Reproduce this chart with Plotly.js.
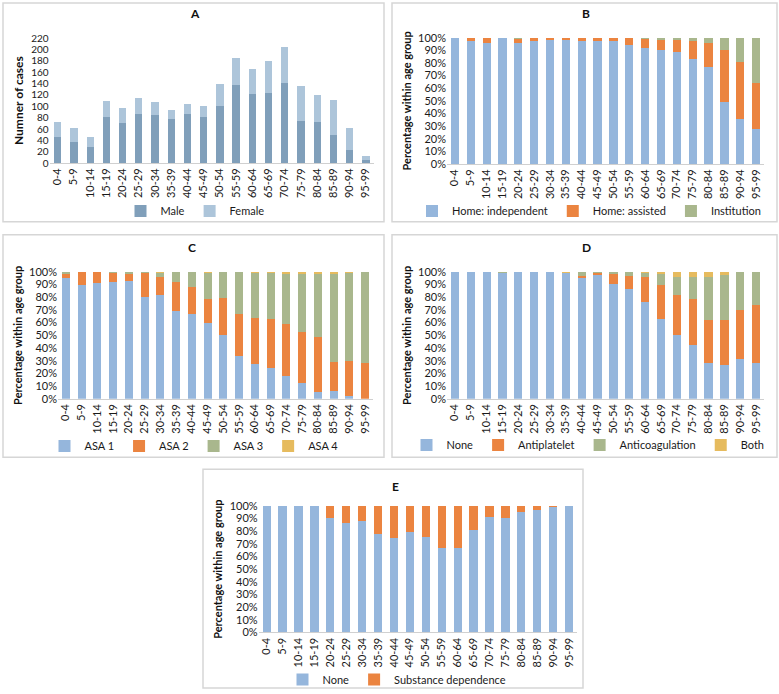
<!DOCTYPE html>
<html>
<head>
<meta charset="utf-8">
<script src="https://cdn.plot.ly/plotly-3.0.1.min.js"></script>
<style>html,body{margin:0;padding:0;background:#fff;}#chart{width:779px;height:694px;}</style>
</head>
<body>
<div id="chart"></div>
<script>
const ageGroups = ['0-4','5-9','10-14','15-19','20-24','25-29','30-34','35-39','40-44','45-49','50-54','55-59','60-64','65-69','70-74','75-79','80-84','85-89','90-94','95-99'];

// Panel A: number of cases
const male   = [46, 37, 29, 82, 70, 86, 85, 77, 86, 81, 101, 137, 121, 124, 141, 75, 72, 49, 23, 6];
const female = [27, 24, 17, 28, 27, 29, 22, 16, 18, 20, 39, 49, 45, 56, 64, 61, 48, 62, 39, 7];

// Panel B: living situation (%)
const homeIndependent = [100, 97, 96, 99.5, 96, 97, 98.5, 98, 97.5, 97.3, 97.5, 94, 92, 90.5, 89, 83, 77, 49, 36, 28];
const homeAssisted    = [0, 3, 4, 0.5, 3, 3, 1.5, 2, 2.5, 2.7, 2.5, 6, 6.7, 7.5, 9, 14, 18.5, 41, 44.5, 36];
const institution     = [0, 0, 0, 0, 1, 0, 0, 0, 0, 0, 0, 0, 1.3, 2, 2, 3, 4.5, 10, 19.5, 36];

// Panel C: ASA class (%)
const asa1 = [95, 90, 91.5, 92, 93, 80.5, 81.5, 69, 67, 60, 50.5, 34, 27, 24, 18, 12.5, 5, 6, 2.5, 0];
const asa2 = [3, 10, 8.5, 7.5, 5.5, 18.5, 14.5, 23, 21, 19, 29, 32.7, 36.8, 39, 41, 40.5, 44, 23, 27.2, 28];
const asa3 = [2, 0, 0, 0.5, 1.5, 1, 3.5, 8, 12, 20, 20.5, 33.3, 35.2, 36, 39, 45, 49.5, 69, 69.3, 72];
const asa4 = [0, 0, 0, 0, 0, 0, 0.5, 0, 0, 1, 0, 0, 1, 1, 2, 2, 1.5, 2, 1, 0];

// Panel D: antithrombotic medication (%)
const medNone         = [100, 100, 100, 99.5, 100, 100, 100, 99.3, 95.3, 97.4, 90.8, 86.4, 75.9, 62.5, 50.4, 42.3, 28.3, 26.8, 31.2, 27.8];
const antiplatelet    = [0, 0, 0, 0, 0, 0, 0, 0, 1.7, 1.6, 7.9, 10.2, 20.1, 27, 31.6, 36.2, 33.9, 34.9, 39.1, 46];
const anticoagulation = [0, 0, 0, 0.5, 0, 0, 0, 0, 3, 1, 1.3, 3.4, 3, 8.5, 13.8, 17.8, 33.6, 35.7, 29.7, 26.2];
const both            = [0, 0, 0, 0, 0, 0, 0, 0.7, 0, 0, 0, 0, 1, 2, 4.2, 3.7, 4.2, 2.6, 0, 0];

// Panel E: substance dependence (%)
const substNone = [100, 100, 100, 100, 90.8, 86.8, 87.9, 77.9, 74.5, 79.5, 75.5, 66.6, 67.1, 81.3, 91.6, 90.3, 95.3, 96.8, 99, 100];
const substDep  = [0, 0, 0, 0, 9.2, 13.2, 12.1, 22.1, 25.5, 20.5, 24.5, 33.4, 32.9, 18.7, 8.4, 9.7, 4.7, 3.2, 1, 0];

const C = {male:'#809fba', female:'#adc5da', blue:'#95b6dc', orange:'#eb8440', green:'#a9b78d', yellow:'#e6bb5e'};
const W = 779, H = 694;
const px = x => x / W, py = y => 1 - y / H;
const FONT = 'Lato, "Open Sans", sans-serif';

function bar(name, y, color, ax, leg, width) {
  const t = {type:'bar', name:name, x:ageGroups, y:y, marker:{color:color, line:{width:0}},
    xaxis:'x'+ax, yaxis:'y'+ax, legend:leg, hoverinfo:'x+y+name'};
  if (width) t.width = width;
  return t;
}

const data = [
  bar('Male', male, C.male, '', 'legend', 0.45),
  bar('Female', female, C.female, '', 'legend', 0.45),
  bar('Home: independent', homeIndependent, C.blue, '2', 'legend2'),
  bar('Home: assisted', homeAssisted, C.orange, '2', 'legend2'),
  bar('Institution', institution, C.green, '2', 'legend2'),
  bar('ASA 1', asa1, C.blue, '3', 'legend3'),
  bar('ASA 2', asa2, C.orange, '3', 'legend3'),
  bar('ASA 3', asa3, C.green, '3', 'legend3'),
  bar('ASA 4', asa4, C.yellow, '3', 'legend3'),
  bar('None', medNone, C.blue, '4', 'legend4'),
  bar('Antiplatelet', antiplatelet, C.orange, '4', 'legend4'),
  bar('Anticoagulation', anticoagulation, C.green, '4', 'legend4'),
  bar('Both', both, C.yellow, '4', 'legend4'),
  bar('None', substNone, C.blue, '5', 'legend5'),
  bar('Substance dependence', substDep, C.orange, '5', 'legend5')
];

function xax(x0, x1, anchor) {
  return {domain:[px(x0), px(x1)], anchor:anchor, type:'category', tickangle:-90,
    tickfont:{size:11, color:'#1a1a1a', family:FONT}, showline:true, linecolor:'#d0d0d0', linewidth:1,
    ticks:'', showgrid:false, zeroline:false, fixedrange:true};
}
function yax(y0, y1, anchor, title, pct) {
  const a = {domain:[py(y0), py(y1)], anchor:anchor, showgrid:false, zeroline:false, showline:false, ticks:'',
    tickfont:{size:pct ? 11 : 10, color:'#1a1a1a', family:FONT},
    title:{text:title, font:{size:pct ? 11 : 12, color:'#111', family:FONT, weight:'bold'}, standoff:4}, fixedrange:true};
  if (pct) { a.range = [0, 100]; a.dtick = 10; a.ticksuffix = '%'; }
  else { a.range = [0, 220]; a.dtick = 20; }
  return a;
}
function leg(cx, cy) {
  return {x:px(cx), y:py(cy), xanchor:'center', yanchor:'middle', orientation:'h', traceorder:'normal',
    font:{size:11, color:'#1a1a1a', family:FONT}, bgcolor:'rgba(0,0,0,0)', itemwidth:30};
}
function frame(x0, y0, x1, y1) {
  return {type:'rect', xref:'paper', yref:'paper', x0:px(x0), x1:px(x1), y0:py(y1), y1:py(y0),
    line:{color:'#d6d6d6', width:1.5}, fillcolor:'rgba(0,0,0,0)', layer:'below'};
}
function ttl(t, cx, cy) {
  return {text:'<b>'+t+'</b>', x:px(cx), y:py(cy), xref:'paper', yref:'paper', showarrow:false,
    xanchor:'center', yanchor:'middle', font:{size:12, color:'#111', family:FONT}};
}

const layout = {
  width:W, height:H, margin:{l:0, r:0, t:0, b:0}, paper_bgcolor:'#fff', plot_bgcolor:'rgba(0,0,0,0)',
  barmode:'stack', bargap:0.48, font:{family:FONT},
  xaxis: xax(49.6, 374, 'y'),   yaxis: yax(163.3, 38.3, 'x', 'Numner of cases', false),
  xaxis2: xax(447, 764, 'y2'),  yaxis2: yax(164.3, 37.7, 'x2', 'Percentage within age group', true),
  xaxis3: xax(58, 373, 'y3'),   yaxis3: yax(399.3, 272.3, 'x3', 'Percentage within age group', true),
  xaxis4: xax(447, 764, 'y4'),  yaxis4: yax(399.3, 272.3, 'x4', 'Percentage within age group', true),
  xaxis5: xax(258.7, 577, 'y5'),yaxis5: yax(633.3, 506.7, 'x5', 'Percentage within age group', true),
  legend: leg(195, 211), legend2: leg(589, 211), legend3: leg(194, 446), legend4: leg(588, 445), legend5: leg(397, 680),
  shapes: [frame(3, 3, 384, 222), frame(392, 3, 777, 222), frame(3, 235, 384, 458), frame(392, 235, 777, 458), frame(203, 470, 583, 689)],
  annotations: [ttl('A', 195, 14), ttl('B', 586, 14), ttl('C', 192, 248), ttl('D', 586, 248), ttl('E', 395, 487)]
};

Plotly.newPlot('chart', data, layout, {displayModeBar:false, staticPlot:true});
</script>
</body>
</html>
